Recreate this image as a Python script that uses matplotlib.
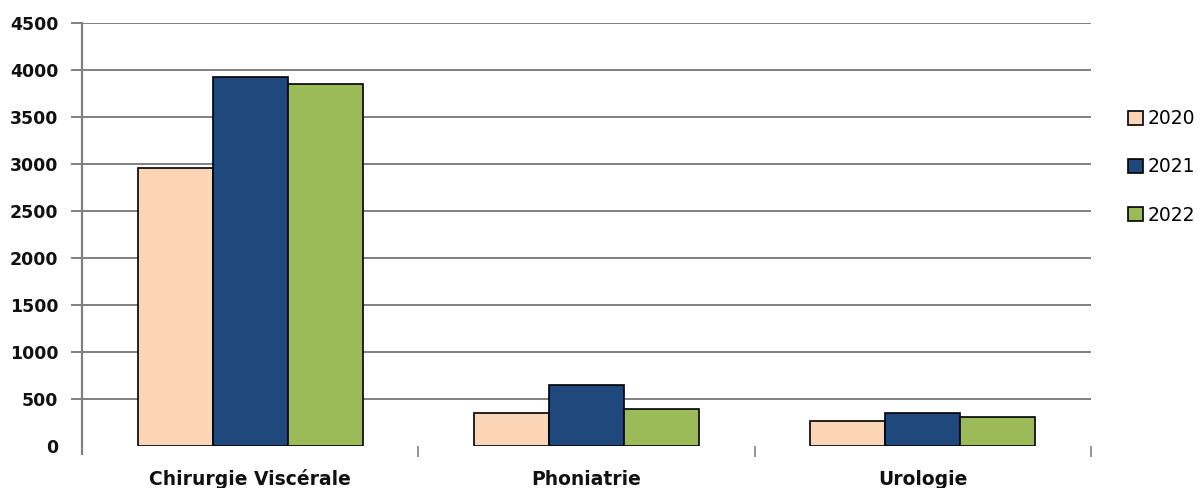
import matplotlib
matplotlib.use("Agg")
import matplotlib.pyplot as plt
import matplotlib.transforms as mtransforms
import numpy as np

categories = ["Chirurgie Viscérale", "Phoniatrie", "Urologie"]
years = ["2020", "2021", "2022"]
values_2020 = [2960, 350, 265]
values_2021 = [3930, 650, 350]
values_2022 = [3850, 395, 310]
y_ticks = [0, 500, 1000, 1500, 2000, 2500, 3000, 3500, 4000, 4500]

colors = ["#FBD5B5", "#1F497D", "#9BBB59"]
grid_color = "#808080"

W, H, DPI = 1201, 488, 100
fig = plt.figure(figsize=(W / DPI, H / DPI), dpi=DPI)
ax = fig.add_axes([82 / W, 1 - 446 / H, (1091 - 82) / W, (446 - 23) / H])

x = np.arange(len(categories))
bar_w = 0.223
series = [values_2020, values_2021, values_2022]
handles = []
for i, (vals, col) in enumerate(zip(series, colors)):
    b = ax.bar(x + (i - 1) * bar_w, vals, width=bar_w, color=col,
               edgecolor="black", linewidth=1.2, zorder=3, label=years[i])
    handles.append(b)

ax.set_xlim(-0.5, len(categories) - 0.5)
ax.set_ylim(0, 4500)
ax.set_yticks(y_ticks)
ax.set_yticklabels([str(v) for v in y_ticks], fontsize=12.5, fontweight="bold",
                   color="#111111")
ax.yaxis.grid(True, color=grid_color, linewidth=1.4, zorder=0)
ax.set_axisbelow(True)
# no baseline gridline or tick at zero
ax.yaxis.get_gridlines()[0].set_visible(False)
ax.yaxis.get_major_ticks()[0].tick1line.set_visible(False)

for s in ["top", "right", "bottom", "left"]:
    ax.spines[s].set_visible(False)
# vertical axis line, running slightly below zero
ax.plot([0, 0], [-8 / 423, 1], transform=ax.transAxes, color=grid_color,
        linewidth=1.6, clip_on=False, zorder=4)

ax.tick_params(axis="y", length=8, width=1.4, color=grid_color, pad=9)

# category separators as small ticks below the baseline
ax.set_xticks([])
ax.set_xticks([0.5, 1.5, 2.5], minor=True)
ax.tick_params(axis="x", which="minor", length=8, width=1.2,
               color=grid_color, direction="out")

label_tf = mtransforms.blended_transform_factory(ax.transData, fig.transFigure)
for xi, name in zip(x, categories):
    ax.text(xi, 1 - 485 / H, name, transform=label_tf,
            ha="center", va="baseline", fontsize=13.5, fontweight="bold",
            color="#111111")

fig.legend(handles=handles, labels=years, loc="center left",
           bbox_to_anchor=(1128 / W, 1 - 167 / H), frameon=False,
           handlelength=0.8, handleheight=0.8,
           handletextpad=0.25, labelspacing=1.55, borderpad=0,
           borderaxespad=0, prop={"size": 13.5})

fig.savefig("out.png", dpi=DPI)
